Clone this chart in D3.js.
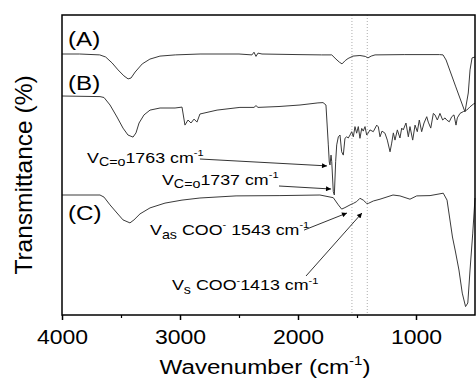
<!DOCTYPE html>
<html>
<head>
<meta charset="utf-8">
<script src="https://cdn.jsdelivr.net/npm/d3@7"></script>
<style>
  body { margin: 0; background: #fff; }
  text { font-family: Arial, "Liberation Sans", sans-serif; fill: #000; }
</style>
</head>
<body>
<div class="chart"></div>
<script>
// spectra: [wavenumber (cm-1), transmittance (arb. %)]
const specA = [
  [4000, 87], [3850, 87], [3680, 86.7], [3630, 86], [3575, 84], [3525, 81.7], [3475, 79.7],
  [3440, 78.7], [3415, 79], [3380, 81], [3320, 83.7], [3255, 85.3], [3170, 86.3], [3040, 86.7],
  [2830, 87], [2500, 87], [2390, 86.7], [2373, 87.6], [2356, 86.2], [2339, 87.3], [2305, 87],
  [2000, 86.8], [1800, 86.7], [1714, 86.7], [1678, 85.3], [1650, 84.3], [1627, 83.7], [1600, 84.8],
  [1576, 85.5], [1534, 86.3], [1475, 86.5], [1430, 86.2], [1407, 85.7], [1380, 86.3], [1347, 86.7],
  [1100, 86.8], [800, 86.8], [771, 86.7], [745, 85], [665, 76.3], [585, 67.7], [557, 74],
  [542, 81.7], [525, 85.7], [500, 86]
];
const specB = [
  [4000, 73], [3678, 72.8], [3644, 72.5], [3593, 70], [3534, 66], [3483, 62.3], [3441, 60],
  [3398, 59.3], [3373, 60.7], [3347, 64], [3305, 66.7], [3254, 68.3], [3169, 69], [3042, 69],
  [2983, 69.3], [2958, 63.3], [2932, 65], [2907, 64], [2881, 65.3], [2856, 64.3], [2831, 67],
  [2686, 68.3], [2492, 69.2], [2373, 69.2], [2356, 69.8], [2339, 69.2], [2161, 69.5], [1983, 70],
  [1831, 70.7], [1788, 70.8], [1763, 70], [1743, 56.7], [1735, 51], [1729, 50], [1720, 53.3],
  [1714, 51.1], [1701, 41.1], [1692, 40], [1681, 51.1], [1672, 56.7], [1658, 59.4], [1644, 60],
  [1630, 54.4], [1616, 53.3], [1602, 58.9], [1587, 59.4], [1574, 59], [1559, 60], [1545, 61.1],
  [1531, 59.4], [1517, 62.8], [1503, 60.6], [1489, 62.8], [1475, 58.9], [1460, 62.2], [1447, 61.3],
  [1432, 62.8], [1418, 60], [1404, 60.7], [1390, 61.7], [1362, 61.1], [1333, 63.3], [1319, 62.7],
  [1305, 59.4], [1288, 61.3], [1263, 60.6], [1243, 58.3], [1220, 54.4], [1206, 57.3], [1192, 60.7],
  [1178, 58.3], [1158, 61.7], [1136, 59], [1121, 62.3], [1108, 61.7], [1085, 64], [1065, 59.4],
  [1051, 62.8], [1028, 58.3], [1008, 63.3], [989, 61.1], [972, 65], [952, 61.1], [932, 64],
  [909, 66.1], [896, 64.3], [875, 62.3], [853, 67.2], [839, 66.7], [819, 65], [797, 67.2],
  [774, 65], [754, 65.7], [740, 65], [718, 64.4], [697, 66.1], [678, 66.7], [661, 63.3],
  [650, 65.7], [627, 67.2], [599, 67.8], [570, 68.3], [542, 69.4], [514, 70.3], [500, 70.6]
];
const specC = [
  [4000, 40], [3678, 40], [3644, 39.3], [3593, 36.7], [3534, 34], [3483, 31.7], [3424, 30.7],
  [3390, 31.7], [3339, 33.7], [3254, 35.7], [3127, 37.3], [2983, 38.3], [2831, 39], [2525, 39.7],
  [2153, 39.8], [1814, 40], [1701, 39.1], [1658, 36.7], [1630, 35.3], [1602, 35.8], [1559, 36.7],
  [1531, 37.2], [1503, 37.8], [1475, 38.9], [1447, 38.3], [1418, 37.2], [1404, 37.2], [1362, 38],
  [1305, 38.6], [1195, 40], [1136, 39.7], [1051, 38.6], [994, 39.7], [881, 39.8], [769, 40.6],
  [737, 38.3], [691, 26], [665, 21], [636, 15], [608, 7.3], [580, 2.8], [561, 4], [542, 15],
  [519, 27.3], [500, 39]
];

const majorTicks = [4000, 3000, 2000, 1000];
const minorTicks = [3500, 2500, 1500];
const markedBands = [1543, 1413];

// panel labels: text, wavenumber, transmittance
const panelLabels = [["(A)", 3949, 89.7], ["(B)", 3949, 75], ["(C)", 3949, 31.7]];

// annotations: pieces of text ("_" = subscript, "^" = superscript), label anchor, arrow start, arrow tip
const annotations = [
  { parts: ["V", "_C=o", "1763 cm", "^-1"], at: [3788, 50.8], from: [2831, 52], to: [1754, 49.7] },
  { parts: ["V", "_C=o", "1737 cm", "^-1"], at: [3153, 43.5], from: [2161, 43], to: [1720, 42] },
  { parts: ["V", "_as", " COO", "^-", " 1543 cm", "^-1"], at: [3254, 26.7], from: [1949, 28.3], to: [1585, 34] },
  { parts: ["V", "_s", " COO", "^-", "1413 cm", "^-1"], at: [3068, 8.3], from: [1932, 13], to: [1458, 34] }
];

const width = 476, height = 380;
const margin = { top: 15, right: 1, bottom: 65, left: 62 };
const stretch = 1.15; // text in the picture is a bit wider than plain Arial

const x = d3.scaleLinear().domain([4000, 500]).range([margin.left, width - margin.right]);
const y = d3.scaleLinear().domain([0, 100]).range([height - margin.bottom, margin.top]);

const svg = d3.select(".chart").append("svg")
  .attr("width", width)
  .attr("height", height);

svg.append("defs").append("marker")
  .attr("id", "head")
  .attr("viewBox", "0 0 10 10")
  .attr("refX", 10).attr("refY", 5)
  .attr("markerWidth", 8).attr("markerHeight", 5)
  .attr("markerUnits", "userSpaceOnUse")
  .attr("orient", "auto")
  .append("path")
  .attr("d", "M0,0L10,5L0,10Z")
  .attr("fill", "#000");

// dotted guides at the carboxylate bands
svg.selectAll(".band")
  .data(markedBands)
  .enter().append("line")
  .attr("class", "band")
  .attr("x1", d => x(d)).attr("x2", d => x(d))
  .attr("y1", y(100)).attr("y2", y(0))
  .attr("stroke", "#999")
  .attr("stroke-width", 0.8)
  .attr("stroke-dasharray", "1,2");

const line = d3.line()
  .x(d => x(d[0]))
  .y(d => y(d[1]));

svg.selectAll(".spec")
  .data([specA, specB, specC])
  .enter().append("path")
  .attr("class", "spec")
  .attr("d", line)
  .attr("fill", "none")
  .attr("stroke", "#3a3a3a")
  .attr("stroke-width", 1)
  .attr("stroke-linejoin", "round");

// x axis, major ticks with labels and minor ones without
const xAxis = svg.append("g")
  .attr("transform", `translate(0,${y(0)})`)
  .call(d3.axisBottom(x).tickValues(majorTicks).tickSize(5).tickPadding(10).tickFormat(d3.format("d")));
xAxis.select(".domain").remove();
xAxis.selectAll("line").attr("stroke-width", 1.5);
xAxis.selectAll("text")
  .attr("font-size", 20)
  .attr("font-family", "Arial, 'Liberation Sans', sans-serif")
  .attr("transform", `scale(${stretch},1)`);

const xMinor = svg.append("g")
  .attr("transform", `translate(0,${y(0)})`)
  .call(d3.axisBottom(x).tickValues(minorTicks).tickSize(3).tickFormat(""));
xMinor.select(".domain").remove();
xMinor.selectAll("line").attr("stroke-width", 1.2);

// frame
svg.append("rect")
  .attr("x", x(4000)).attr("y", y(100))
  .attr("width", x(500) - x(4000))
  .attr("height", y(0) - y(100))
  .attr("fill", "none")
  .attr("stroke", "#000")
  .attr("stroke-width", 1.5);

// writes a line of text made of normal / sub / superscript pieces
function richText(g, parts, size) {
  const t = g.append("text").attr("font-size", size).attr("transform", `scale(${stretch},1)`);
  let shift = 0;
  parts.forEach(p => {
    let target = 0, fs = size, txt = p;
    if (p[0] === "_") { target = size * 0.25; fs = size * 0.8; txt = p.slice(1); }
    if (p[0] === "^") { target = -size * 0.42; fs = size * 0.62; txt = p.slice(1); }
    t.append("tspan")
      .attr("dy", target - shift)
      .attr("font-size", fs)
      .text(txt);
    shift = target;
  });
  return t;
}

svg.selectAll(".panel")
  .data(panelLabels)
  .enter().append("text")
  .attr("class", "panel")
  .attr("transform", d => `translate(${x(d[1])},${y(d[2])}) scale(${stretch},1)`)
  .attr("font-size", 21)
  .text(d => d[0]);

annotations.forEach(a => {
  const g = svg.append("g").attr("transform", `translate(${x(a.at[0])},${y(a.at[1])})`);
  richText(g, a.parts, 15.5);
  svg.append("line")
    .attr("x1", x(a.from[0])).attr("y1", y(a.from[1]))
    .attr("x2", x(a.to[0])).attr("y2", y(a.to[1]))
    .attr("stroke", "#000")
    .attr("stroke-width", 0.8)
    .attr("marker-end", "url(#head)");
});

// axis titles
const xTitle = svg.append("g").attr("transform", `translate(265,374)`);
richText(xTitle, ["Wavenumber (cm", "^-1", ")"], 21).attr("text-anchor", "middle");

svg.append("text")
  .attr("transform", "translate(31.5,175) rotate(-90)")
  .attr("text-anchor", "middle")
  .attr("font-size", 24.5)
  .text("Transmittance (%)");
</script>
</body>
</html>
